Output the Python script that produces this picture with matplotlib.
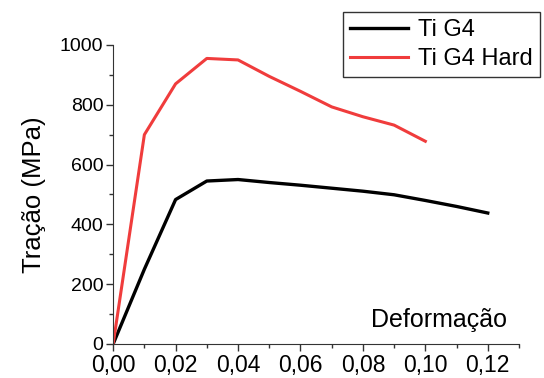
import matplotlib
matplotlib.use("Agg")
import matplotlib.pyplot as plt
from matplotlib.ticker import MultipleLocator, FuncFormatter

plt.rcParams['font.family'] = ['Liberation Sans', 'DejaVu Sans']

# dados
def_g4 = [0.0, 0.01, 0.02, 0.03, 0.04, 0.05, 0.06, 0.07, 0.08, 0.09, 0.10, 0.11, 0.12]
tracao_g4 = [0, 250, 483, 545, 550, 540, 531, 521, 511, 499, 480, 460, 438]

def_hard = [0.0, 0.01, 0.02, 0.03, 0.04, 0.05, 0.06, 0.07, 0.08, 0.09, 0.10]
tracao_hard = [0, 700, 870, 955, 950, 895, 845, 793, 760, 732, 678]

fig = plt.figure(figsize=(5.44, 3.78), dpi=100)
ax = fig.add_axes([0.208, 0.09, 0.746, 0.791])

ax.plot(def_g4, tracao_g4, color='black', lw=2.4, label='Ti G4')
ax.plot(def_hard, tracao_hard, color='#f03c3c', lw=2.2, label='Ti G4 Hard')

ax.set_xlim(0, 0.13)
ax.set_ylim(0, 1000)
ax.spines['top'].set_visible(False)
ax.spines['right'].set_visible(False)
ax.spines['left'].set_color('#333333')
ax.spines['bottom'].set_color('#333333')

ax.xaxis.set_major_locator(MultipleLocator(0.02))
ax.xaxis.set_minor_locator(MultipleLocator(0.01))
ax.yaxis.set_major_locator(MultipleLocator(200))
ax.yaxis.set_minor_locator(MultipleLocator(100))
ax.xaxis.set_major_formatter(FuncFormatter(lambda v, p: f'{v:.2f}'.replace('.', ',')))
ax.tick_params(which='major', direction='out', length=5, width=1, colors='#333333')
ax.tick_params(which='minor', direction='out', length=3, width=1, colors='#333333')
ax.tick_params(axis='x', labelsize=16.5, labelcolor='black', pad=2)
ax.tick_params(axis='y', labelsize=14, labelcolor='black', pad=2)

ax.set_ylabel('Tração (MPa)', fontsize=18.5, labelpad=10)
ax.text(0.1262, 40, 'Deformação', fontsize=18, ha='right', va='bottom')

leg = ax.legend(loc='upper left', bbox_to_anchor=(0.567, 1.11), fontsize=17,
                frameon=True, fancybox=False, edgecolor='#333333',
                handlelength=2.45, handletextpad=0.42, borderpad=0.3,
                labelspacing=0.3, borderaxespad=0)
leg.get_frame().set_linewidth(1)
leg.get_frame().set_alpha(1)

fig.savefig('out.png', dpi=100)
